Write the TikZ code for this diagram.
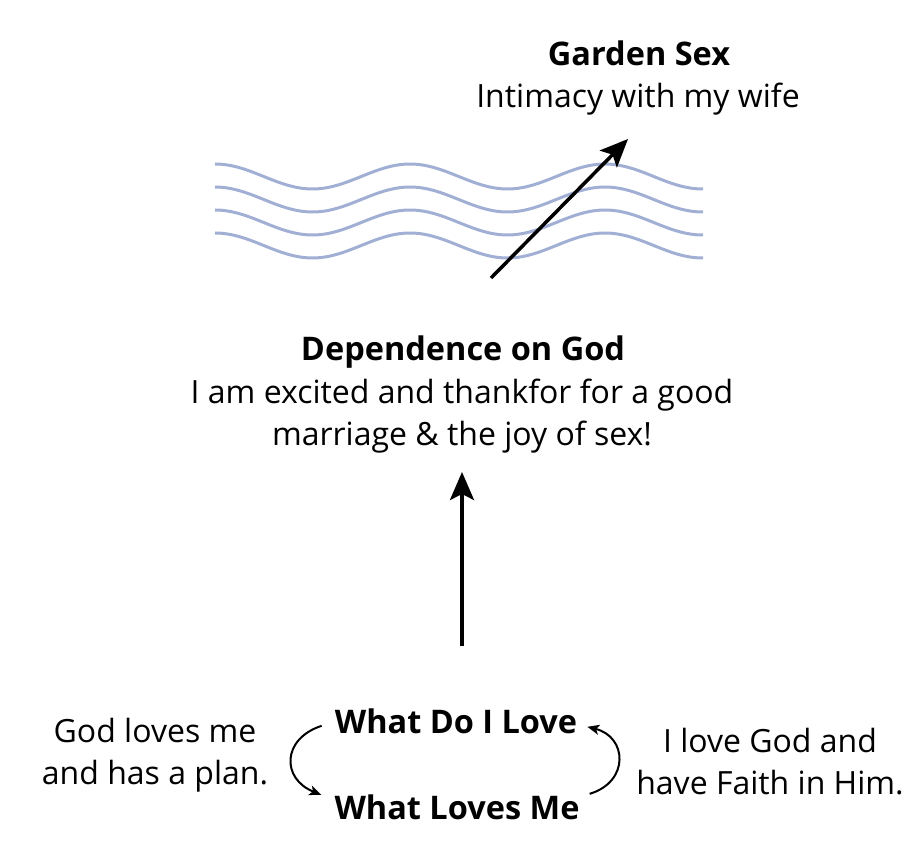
\documentclass[tikz,border=0pt]{standalone}
\usepackage{fontspec}
\setmainfont{Open Sans}
\usepackage{tikz}
\usetikzlibrary{arrows.meta}
\definecolor{wavblue}{HTML}{A2AFD5}

\begin{document}
\begin{tikzpicture}[
  x=1pt,y=1pt,
  every node/.style={font=\fontsize{32}{42}\selectfont,inner sep=0pt},
  T/.style={font=\fontsize{32.5}{42}\selectfont\bfseries,anchor=base},
  L/.style={anchor=base},
  M/.style={align=center},
  wv/.style={wavblue,line width=3pt},
  ar/.style={-{Stealth[length=28pt,width=24pt,inset=6pt]},line width=3.5pt},
  cy/.style={-{Stealth[length=12pt,width=10pt,inset=3pt]},line width=2pt}
]
\useasboundingbox (0,0) rectangle (918,-842);

% top
\node[T](gtitle) at (639,-66){Garden Sex};
\node[L](gbody) at (638,-108){Intimacy with my wife};

\foreach \i in {0,...,3}
  \draw[wv] plot[domain=0:488,samples=120,smooth]
    ({215+\x},{-164-23*\i-12.5*(1-cos(1.8462*\x))});

\coordinate (ds) at (491,-278);
\coordinate (dt) at (628,-139);
\draw[ar](ds)--(dt);

% middle
\node[T](dtitle) at (463,-360){Dependence on God};
\node[M](dbody) at (462,-416)
     {I am excited and thankfor for a good\\marriage \& the joy of sex!};

\coordinate (vs) at (462,-646);
\coordinate (vt) at (462,-472);
\draw[ar](vs)--(vt);

% bottom
\node[T](dolove) at (456,-733){What Do I Love};
\node[T](lovesme) at (457,-819){What Loves Me};
\node[M](gloves) at (155,-755){God loves me\\and has a plan.};
\node[M](ilove) at (770,-762){I love God and\\have Faith in Him.};

\draw[cy]([shift={(-13,-5)}]dolove.west)
   .. controls +(-40,-13) and +(-40,16) .. ([shift={(-13,12)}]lovesme.west);
\draw[cy]([shift={(10,13)}]lovesme.east)
   .. controls +(40,12) and +(40,-10) .. ([shift={(10,-6)}]dolove.east);
\end{tikzpicture}
\end{document}
